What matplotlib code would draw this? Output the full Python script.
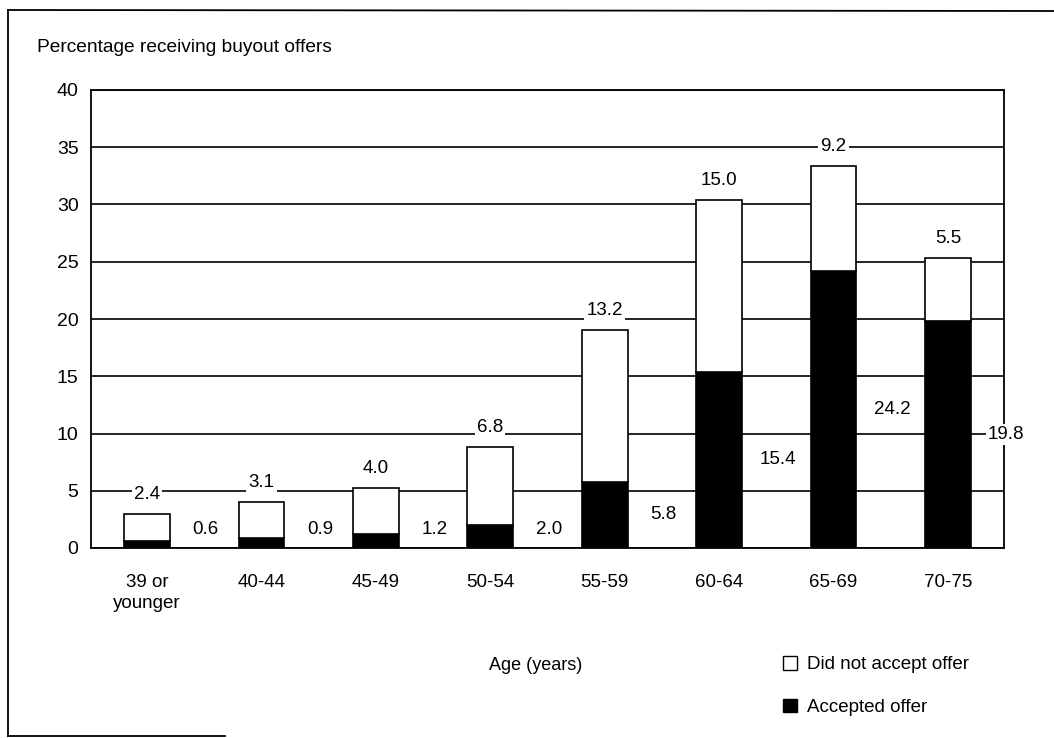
import matplotlib
matplotlib.use("Agg")
import matplotlib.pyplot as plt
from matplotlib.patches import Patch
from matplotlib.lines import Line2D

categories = ["39 or\nyounger", "40-44", "45-49", "50-54", "55-59", "60-64", "65-69", "70-75"]
accepted = [0.6, 0.9, 1.2, 2.0, 5.8, 15.4, 24.2, 19.8]
not_accepted = [2.4, 3.1, 4.0, 6.8, 13.2, 15.0, 9.2, 5.5]
yticks = [0, 5, 10, 15, 20, 25, 30, 35, 40]

plt.rcParams['font.family'] = ['Liberation Sans', 'DejaVu Sans']

W, H = 1054, 738
fig = plt.figure(figsize=(W / 100, H / 100), dpi=100)
ax = fig.add_axes([91 / W, 1 - 548 / H, (1004 - 91) / W, (548 - 90) / H])

x = list(range(len(categories)))
bw = 0.4
ax.bar(x, accepted, width=bw, color='black', edgecolor='black', linewidth=1.2, zorder=3)
ax.bar(x, not_accepted, width=bw, bottom=accepted, color='white', edgecolor='black',
       linewidth=1.2, zorder=3)

ax.set_xlim(-0.49, 7.49)
ax.set_ylim(0, 40)
ax.set_yticks(yticks)
ax.set_xticks(x)
ax.set_xticklabels(categories, fontsize=13.5, linespacing=1.3)
ax.tick_params(axis='both', length=0, labelsize=13.5)
ax.tick_params(axis='y', pad=9, labelsize=14)
ax.tick_params(axis='x', pad=19)
ax.yaxis.grid(True, color='black', linewidth=1.2, zorder=0)
ax.set_axisbelow(True)
for s in ax.spines.values():
    s.set_color('black')
    s.set_linewidth(1.3)

bbox = dict(facecolor='white', edgecolor='none', pad=1.5)
for i, (a, n) in enumerate(zip(accepted, not_accepted)):
    ax.text(i, a + n + 1.7, f"{n:.1f}", ha='center', va='center', fontsize=13.5,
            zorder=5, bbox=bbox)
    ax.text(i + 0.51, max(a / 2, 1.6), f"{a:.1f}", ha='center', va='center',
            fontsize=13.5, zorder=5, bbox=bbox, clip_on=False)

fig.text(37 / W, 1 - 48 / H, "Percentage receiving buyout offers", ha='left', va='center',
         fontsize=13.8)
fig.text(536 / W, 1 - 665 / H, "Age (years)", ha='center', va='center', fontsize=13)

handles = [Patch(facecolor='white', edgecolor='black', linewidth=1.0, label='Did not accept offer'),
           Patch(facecolor='black', edgecolor='black', linewidth=1.0, label='Accepted offer')]
fig.legend(handles=handles, loc='upper left', bbox_to_anchor=(783 / W, 1 - 656 / H),
           frameon=False, fontsize=13.5, handlelength=0.75, handleheight=0.75,
           handletextpad=0.55, labelspacing=1.35, borderpad=0, borderaxespad=0)

# outer frame (scanned page border)
fig.add_artist(Line2D([8 / W, 8 / W], [1 - 10 / H, 1 - 736 / H], color='black', lw=1.3,
                      transform=fig.transFigure))
fig.add_artist(Line2D([8 / W, 1.0], [1 - 10 / H, 1 - 11 / H], color='black', lw=1.3,
                      transform=fig.transFigure))
fig.add_artist(Line2D([8 / W, 225 / W], [1 - 736 / H, 1 - 736 / H], color='black', lw=1.3,
                      transform=fig.transFigure))

fig.savefig("out.png", dpi=100)
